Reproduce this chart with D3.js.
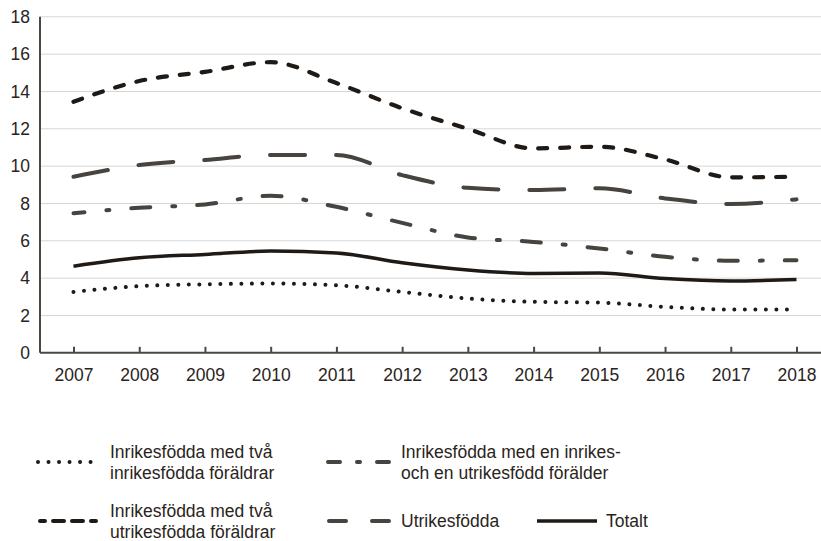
<!DOCTYPE html>
<html>
<head>
	<meta charset="utf-8">
	<title></title>
	<style>
	body{
		margin: 0;
		background: #fff;
	}
	svg{
		display: block;
		font-family: "Liberation Sans", Arial, sans-serif;
	}
	.grid line{
		stroke: #d6d6d6;
		stroke-width: 1;
	}
	.axis text, .legend text{
		fill: #2a2420;
		font-size: 17.5px;
	}
	.axis line{
		stroke: #4d4741;
		stroke-width: 2;
	}
	.series{
		fill: none;
	}
	</style>
</head>
<body>
	<svg width="821" height="541"></svg>
	<script src="https://cdnjs.cloudflare.com/ajax/libs/d3/7.8.5/d3.min.js"></script>
	<script type="text/javascript">

		var years = [2007, 2008, 2009, 2010, 2011, 2012, 2013, 2014, 2015, 2016, 2017, 2018];
		var yTicks = [0, 2, 4, 6, 8, 10, 12, 14, 16, 18];

		// andel per grupp
		var inrikesTvaInrikes = [3.26, 3.57, 3.67, 3.71, 3.62, 3.26, 2.91, 2.73, 2.69, 2.46, 2.32, 2.32];
		var inrikesTvaUtrikes = [13.45, 14.56, 15.05, 15.57, 14.45, 13.1, 12.0, 10.95, 11.04, 10.36, 9.4, 9.43];
		var inrikesEnAvVarje = [7.47, 7.77, 7.95, 8.41, 7.82, 6.96, 6.18, 5.94, 5.59, 5.14, 4.93, 4.96];
		var utrikesfodda = [9.43, 10.06, 10.33, 10.6, 10.6, 9.52, 8.84, 8.72, 8.81, 8.27, 7.97, 8.22];
		var totalt = [4.64, 5.09, 5.27, 5.45, 5.35, 4.82, 4.43, 4.25, 4.28, 3.98, 3.85, 3.93];

		var svg = d3.select("svg");
		var black = "#1f1a16";
		var gray = "#47433f";

		var x = d3.scalePoint().domain(years).range([73.5, 796.5]);
		var y = d3.scaleLinear().domain([0, 18]).range([352.8, 16.8]);
		var plotLeft = 40, plotRight = 821;

		// gridlines
		svg.append("g").attr("class", "grid")
			.selectAll("line")
			.data(yTicks.filter(function(d){ return d > 0; }))
			.enter().append("line")
			.attr("x1", plotLeft).attr("x2", plotRight)
			.attr("y1", function(d){ return y(d); })
			.attr("y2", function(d){ return y(d); });

		var yAxis = svg.append("g").attr("class", "axis")
			.attr("transform", "translate(" + plotLeft + ",0)")
			.call(d3.axisLeft(y).tickValues(yTicks).tickSize(0).tickPadding(10));
		yAxis.select(".domain").remove();
		yAxis.append("line").attr("x1", 0).attr("x2", 0).attr("y1", y(18)).attr("y2", y(0));

		var xAxis = svg.append("g").attr("class", "axis")
			.attr("transform", "translate(0," + y(0) + ")")
			.call(d3.axisBottom(x).tickSizeInner(-6).tickSizeOuter(0).tickPadding(16));
		xAxis.select(".domain").remove();
		xAxis.append("line").attr("x1", plotLeft).attr("x2", plotRight).attr("y1", 0).attr("y2", 0);

		var series = [
			{name: "inrikesTvaInrikes", values: inrikesTvaInrikes, color: black, width: 4, dash: "0.01,10.5", offset: 0},
			{name: "inrikesEnAvVarje", values: inrikesEnAvVarje, color: gray, width: 4, dash: "19,22,3,22", offset: 8},
			{name: "utrikesfodda", values: utrikesfodda, color: gray, width: 4, dash: "35,31", offset: 0},
			{name: "totalt", values: totalt, color: black, width: 3.5, dash: null, offset: 0},
			{name: "inrikesTvaUtrikes", values: inrikesTvaUtrikes, color: black, width: 4.2, dash: "9,13", offset: 0}
		];

		var line = d3.line()
			.x(function(d, i){ return x(years[i]); })
			.y(function(d){ return y(d); })
			.curve(d3.curveMonotoneX);

		svg.append("g").selectAll("path")
			.data(series)
			.enter().append("path")
			.attr("class", "series")
			.attr("d", function(d){ return line(d.values); })
			.attr("stroke", function(d){ return d.color; })
			.attr("stroke-width", function(d){ return d.width; })
			.attr("stroke-linecap", function(d){ return d.dash ? "round" : "butt"; })
			.attr("stroke-linejoin", "round")
			.attr("stroke-dasharray", function(d){ return d.dash; })
			.attr("stroke-dashoffset", function(d){ return d.offset; });

		// legend
		var legendItems = [
			{x1: 38, x2: 101, y: 462, color: black, width: 4, dash: "0.01,10.5", tx: 110, lines: ["Inrikesfödda med två", "inrikesfödda föräldrar"], ty: 458},
			{x1: 328, x2: 391, y: 462, color: gray, width: 4, dash: "12,17,3,17", tx: 401, lines: ["Inrikesfödda med en inrikes-", "och en utrikesfödd förälder"], ty: 458},
			{x1: 40, x2: 99, y: 521, color: black, width: 4, dash: "5,8,11,8,11,8,5", tx: 110, lines: ["Inrikesfödda med två", "utrikesfödda föräldrar"], ty: 517},
			{x1: 329, x2: 389, y: 521, color: gray, width: 4, dash: "17,26", tx: 401, lines: ["Utrikesfödda"], ty: 527},
			{x1: 537, x2: 597, y: 521, color: black, width: 3.5, dash: null, tx: 606, lines: ["Totalt"], ty: 527}
		];

		var legend = svg.append("g").attr("class", "legend");
		legendItems.forEach(function(d){
			legend.append("line")
				.attr("x1", d.x1).attr("x2", d.x2)
				.attr("y1", d.y).attr("y2", d.y)
				.attr("stroke", d.color)
				.attr("stroke-width", d.width)
				.attr("stroke-linecap", d.dash ? "round" : "butt")
				.attr("stroke-dasharray", d.dash);
			var t = legend.append("text").attr("x", d.tx).attr("y", d.ty);
			d.lines.forEach(function(s, i){
				t.append("tspan").attr("x", d.tx).attr("dy", i === 0 ? 0 : 21).text(s);
			});
		});
	</script>
</body>
</html>
